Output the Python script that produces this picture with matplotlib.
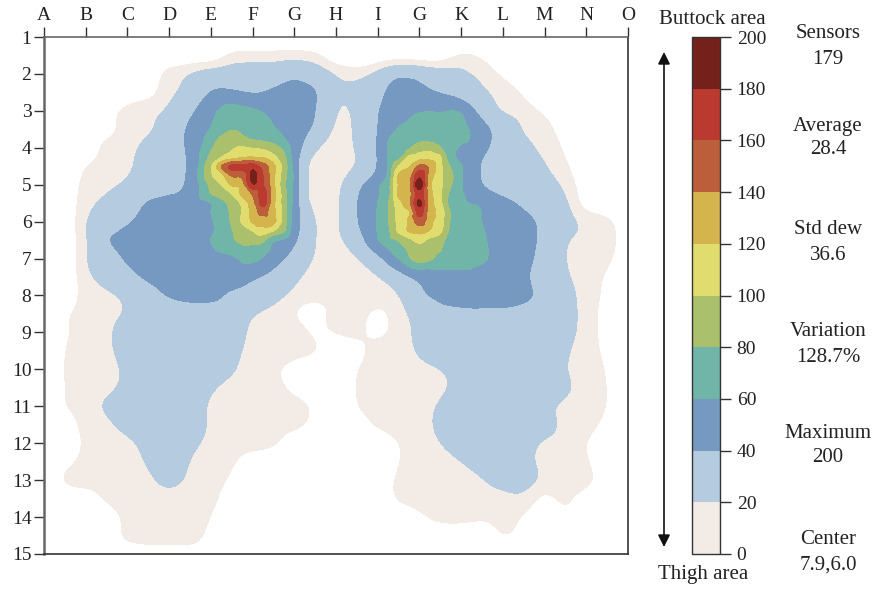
import numpy as np
import matplotlib
matplotlib.use("Agg")
import matplotlib.pyplot as plt
import matplotlib.tri as mtri
from matplotlib.colors import ListedColormap, BoundaryNorm
from matplotlib.cm import ScalarMappable

plt.rcParams['font.family'] = ['Liberation Serif', 'DejaVu Serif']

col_labels = list("ABCDEFGHIGKLMNO")
row_labels = list(range(1, 16))
bar_ticks = list(range(0, 201, 20))
stats = [("Sensors", "179"), ("Average", "28.4"), ("Std dew", "36.6"),
         ("Variation", "128.7%"), ("Maximum", "200"), ("Center", "7.9,6.0")]
band_colors = ['#f3ebe5', '#b5cbe0', '#7599c0', '#70b5a8', '#abc06c',
               '#e0dc6e', '#d4b44c', '#bd5e3a', '#bb3a30', '#74201b']

# pressure read at half-cell steps, A..O across, 1..15 down
pressure = [
 [0]*29,
 [0,0,0,0,0,0,0,0,0,12,13,13,13,12,0,0,0,0,0,0,12,8,0,0,0,0,0,0,0],
 [0,0,0,0,0,0,15,21,28,30,30,30,37,30,19,15,24,38,35,28,23,17,8,0,0,0,0,0,0],
 [0,0,0,0,0,5,17,24,41,41,37,43,47,42,21,25,36,47,44,38,30,22,17,8,0,0,0,0,0],
 [0,0,0,5,15,18,22,35,55,68,63,55,50,41,19,22,40,48,59,59,58,32,17,15,8,0,0,0,0],
 [0,0,0,5,15,18,25,44,60,79,72,63,50,35,16,22,40,62,70,70,65,47,32,18,15,3,0,0,0],
 [0,0,0,15,17,24,32,43,70,101,101,88,58,19,15,21,38,66,85,80,58,44,32,23,17,8,0,0,0],
 [0,0,10,16,18,25,32,40,105,165,190,125,62,16,15,20,40,100,150,100,65,38,33,28,21,12,0,0,0],
 [0,0,15,17,21,30,35,42,90,125,175,130,70,16,15,35,55,118,190,120,70,38,30,28,24,18,2,0,0],
 [0,0,17,22,32,42,44,47,62,88,165,135,72,16,15,40,60,105,183,112,68,58,45,37,31,23,4,0,0],
 [0,0,20,30,38,45,47,50,59,82,120,128,68,20,16,39,63,95,160,108,70,60,52,44,37,26,17,14,0],
 [0,0,18,40,46,50,52,55,60,80,88,92,45,24,16,30,58,78,100,86,70,62,52,46,36,20,17,16,0],
 [0,0,20,32,42,46,50,52,54,57,65,48,33,18,15,18,33,60,88,75,72,63,52,44,35,19,17,13,0],
 [0,0,17,25,35,43,47,50,50,50,42,33,22,16,15,15,18,28,43,50,52,50,46,42,33,21,16,8,0],
 [0,0,16,17,22,33,42,46,46,36,30,24,17,15,15,15,16,19,37,44,47,48,47,43,36,24,16,7,0],
 [0,8,16,17,21,25,28,30,30,27,20,17,10,2,16,14,6,16,25,35,36,36,36,35,33,25,16,5,0],
 [0,8,15,18,25,30,33,33,30,25,18,16,16,8,10,13,5,15,23,30,33,34,34,33,31,24,16,5,0],
 [0,10,15,18,24,30,32,33,28,23,17,15,15,12,3,4,15,17,21,28,31,33,33,32,29,21,16,6,0],
 [0,11,15,17,22,28,31,32,27,21,16,12,4,0,0,10,15,16,17,19,25,30,31,30,28,20,16,9,0],
 [0,10,15,16,24,30,32,28,21,17,16,14,7,0,0,11,15,15,17,18,23,29,31,31,29,22,16,10,0],
 [0,10,15,22,30,31,32,27,18,16,16,15,15,8,0,10,15,16,17,21,27,30,31,29,23,17,15,10,0],
 [0,4,14,17,25,30,30,27,18,16,16,15,14,6,0,2,12,15,17,22,27,29,30,29,25,17,15,6,0],
 [0,0,13,15,17,24,29,23,17,16,15,13,2,0,0,0,0,10,15,20,25,27,27,24,18,16,10,0,0],
 [0,5,14,15,16,21,28,19,16,12,3,0,0,0,0,0,0,10,15,16,20,24,26,23,17,15,12,0,0],
 [0,13,15,15,15,17,26,17,15,8,0,0,0,0,0,0,0,13,15,15,16,19,25,26,18,15,14,3,0],
 [0,0,3,13,15,15,15,15,14,3,0,0,0,0,0,0,0,13,15,15,16,17,16,18,5,13,2,0,0],
 [0,0,0,0,14,15,15,15,10,0,0,0,0,0,0,0,0,0,8,15,15,12,15,9,0,10,0,0,0],
 [0,0,0,0,14,18,18,18,4,0,0,0,0,0,0,0,0,0,0,0,0,0,12,5,0,0,0,0,0],
 [0]*29,
]

# finer readings around the left peak: quarter-cell steps from E / row 3.5
left_peak = [
 [61,70,79,76,73,68,62,55,50,45,37],
 [68,84,90,84,78,75,71,61,50,40,28],
 [77,92,98,102,99,96,88,75,52,35,20],
 [85,99,110,118,120,118,105,85,50,22,16],
 [98,140,165,165,172,150,125,92,52,17,15],
 [97,112,142,145,185,160,125,88,58,18,15],
 [85,100,122,130,178,162,125,85,55,18,15],
 [80,90,100,125,142,168,127,90,55,16,15],
 [59,72,88,104,132,168,125,90,52,19,15],
 [60,70,84,102,128,145,125,92,48,30,16],
 [58,68,82,102,122,128,126,90,48,30,20],
 [58,65,79,88,100,112,100,82,47,30,19],
 [60,68,77,84,86,84,62,57,42,29,19],
]
# finer readings around the right peak: quarter-cell steps from I / row 3.5
right_peak = [
 [40,50,62,67,70,70,70,70,67],
 [40,59,67,72,75,75,74,72,68],
 [39,62,70,78,90,92,81,70,55],
 [39,62,72,103,110,112,102,68,52],
 [38,62,100,118,145,135,105,78,62],
 [42,62,122,130,175,130,105,85,62],
 [57,72,122,135,195,125,105,82,62],
 [58,72,124,132,170,128,102,75,62],
 [60,78,112,133,185,130,105,72,62],
 [61,80,108,118,168,128,112,78,64],
 [61,79,106,122,150,125,110,78,65],
 [61,76,103,122,128,118,104,75,66],
 [59,72,82,95,105,95,88,70,68],
]

W, H = 873, 589
fig = plt.figure(figsize=(W/100, H/100), dpi=100)
def box(l, t, r, b):
    return [l/W, 1-b/H, (r-l)/W, (b-t)/H]

readings = {}
for r, row in enumerate(pressure):
    for c, v in enumerate(row):
        readings[(c*2, r*2)] = float(v)          # keys are quarter cells
for r, row in enumerate(left_peak):
    for c, v in enumerate(row):
        readings[(16 + c, 10 + r)] = float(v)
for r, row in enumerate(right_peak):
    for c, v in enumerate(row):
        readings[(32 + c, 10 + r)] = float(v)
keys = sorted(readings)
px = np.array([k[0]/4 for k in keys])
py = np.array([1 + k[1]/4 for k in keys])
pz = np.array([readings[k] for k in keys])

tri = mtri.Triangulation(px, py)
interp = mtri.CubicTriInterpolator(tri, pz, kind='geom')
xf = np.arange(0, 14.001, 0.04)
yf = np.arange(1, 15.001, 0.04)
Xf, Yf = np.meshgrid(xf, yf)
Zf = np.ma.filled(interp(Xf, Yf), 0.0)
Zf = np.clip(Zf, 0, 200)

# soften the low, cell-sized outline steps; leave the peaks as read
t = np.arange(-15, 16) * 0.04
kernel = np.exp(-0.5 * (t / 0.17) ** 2)
kernel /= kernel.sum()
blur = np.apply_along_axis(lambda v: np.convolve(v, kernel, mode='same'), 0, Zf)
blur = np.apply_along_axis(lambda v: np.convolve(v, kernel, mode='same'), 1, blur)
weight = np.clip((Zf - 35) / 30, 0, 1)
Zs = weight * Zf + (1 - weight) * blur

ax = fig.add_axes(box(44, 37, 628, 554))
levels = [10] + list(range(20, 201, 20))
ax.contourf(Xf, Yf, Zs, levels=levels, colors=band_colors)
ax.set_xlim(0, 14)
ax.set_ylim(15, 1)
ax.xaxis.tick_top()
ax.set_xticks(range(15))
ax.set_xticklabels(col_labels, fontsize=14, color='#222222')
ax.set_yticks(row_labels)
ax.set_yticklabels(row_labels, fontsize=14, color='#222222')
ax.tick_params(axis='both', length=7, width=1, color='#333333', pad=2)
for s in ax.spines.values():
    s.set_linewidth(1.2)
    s.set_color('#333333')
ax.spines['left'].set_linewidth(1.8)
ax.spines['left'].set_color('#666666')
ax.spines['top'].set_color('#666666')

cax = fig.add_axes(box(692, 37, 720, 554))
bounds = list(range(0, 201, 20))
norm = BoundaryNorm(bounds, len(band_colors))
cb = fig.colorbar(ScalarMappable(norm=norm, cmap=ListedColormap(band_colors)),
                  cax=cax, ticks=bar_ticks, spacing='proportional', drawedges=False)
cb.ax.tick_params(length=8, width=1, color='#333333', labelsize=14, pad=4, labelcolor='#222222')
cb.outline.set_linewidth(1)
cb.outline.set_edgecolor('#333333')

ov = fig.add_axes([0, 0, 1, 1])
ov.set_xlim(0, W)
ov.set_ylim(H, 0)
ov.axis('off')
ov.patch.set_alpha(0)
ov.annotate('', xy=(664, 52), xytext=(664, 547),
            arrowprops=dict(arrowstyle='<|-|>', color='#111111', lw=1.2,
                            mutation_scale=18, shrinkA=0, shrinkB=0))
ov.text(712, 19, "Buttock area", ha='center', va='center', fontsize=15, color='#222222')
ov.text(703, 575, "Thigh area", ha='center', va='center', fontsize=15, color='#222222')
stat_y = [(34, 60), (126, 149), (230, 255), (332, 358), (433, 458), (540, 565)]
for (a, b), (ya, yb) in zip(stats, stat_y):
    ov.text(828, ya, a, ha='center', va='center', fontsize=15, color='#222222')
    ov.text(828, yb, b, ha='center', va='center', fontsize=15, color='#222222')

fig.savefig("out.png", dpi=100)
